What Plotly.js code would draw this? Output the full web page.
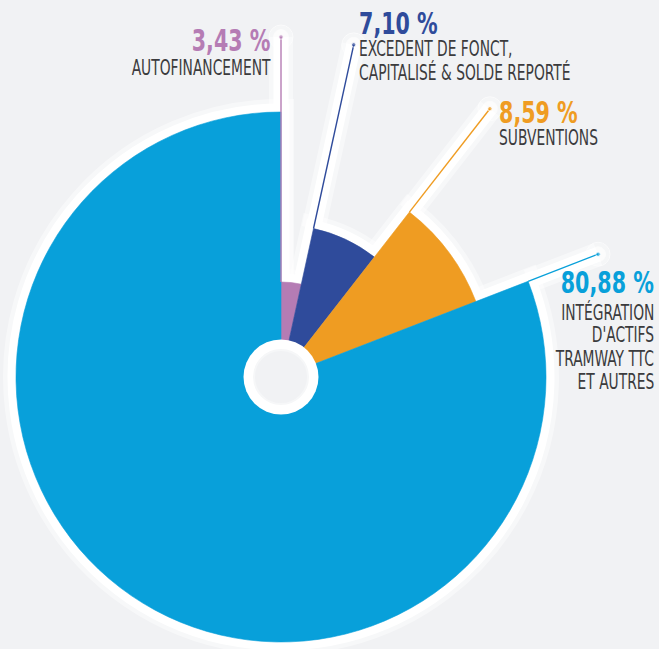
<!DOCTYPE html>
<html>
<head>
<meta charset="utf-8">
<script src="https://cdn.plot.ly/plotly-3.0.1.min.js"></script>
<style>
  html, body { margin:0; padding:0; width:659px; height:649px; overflow:hidden; background:#f1f2f4; }
  #chart { position:absolute; left:-70px; top:0; width:729px; height:730px; }
</style>
</head>
<body>
<div id="chart"></div>
<script>
// ---- data ----
const categories = ['AUTOFINANCEMENT', 'EXCEDENT DE FONCT, CAPITALISÉ & SOLDE REPORTÉ', 'SUBVENTIONS', "INTÉGRATION D'ACTIFS TRAMWAY TTC ET AUTRES"];
const values = [3.43, 7.10, 8.59, 80.88];
const valueLabels = ['3,43 %', '7,10 %', '8,59 %', '80,88 %'];
const labelLines = [
  ['AUTOFINANCEMENT'],
  ['EXCEDENT DE FONCT,', 'CAPITALISÉ & SOLDE REPORTÉ'],
  ['SUBVENTIONS'],
  ['INTÉGRATION', "D'ACTIFS", 'TRAMWAY TTC', 'ET AUTRES']
];
// ---- styles ----
const colors = ['#b57cb4', '#2f4b9b', '#ef9c22', '#08a0da'];
const sliceRadius = [95, 152, 209, 265];
const leaderEnd = 340;
const textColor = '#3b3b3d';
const FONT = '"DejaVu Sans Condensed", "DejaVu Sans", sans-serif';
const PCT_SQUEEZE = 0.74, TXT_SQUEEZE = 0.75;

// ---- geometry of page ----
const W = 729, H = 730, OX = 70;
const CX = 281, CY = 377, R = 345;
const px = (x) => (x + OX) / W;
const py = (y) => (H - y) / H;

const total = values.reduce((a, b) => a + b, 0);
const widths = values.map(v => v / total * 360);
const starts = [];
let acc = 0;
widths.forEach(w => { starts.push(acc); acc += w; });
const thetas = widths.map((w, i) => starts[i] + w / 2);

const traces = [];
// ---- halo (bottom subplot 'polar') ----
traces.push({type:'barpolar', subplot:'polar', r: sliceRadius, theta: thetas, width: widths,
  marker:{color:'rgba(255,255,255,0.45)', line:{color:'rgba(255,255,255,0.45)', width:26}}, hoverinfo:'skip'});
traces.push({type:'barpolar', subplot:'polar', r: sliceRadius, theta: thetas, width: widths,
  marker:{color:'#ffffff', line:{color:'#ffffff', width:17}}, hoverinfo:'skip'});
values.forEach((v, i) => {
  traces.push({type:'scatterpolar', subplot:'polar', mode:'lines+markers', r:[sliceRadius[i], leaderEnd], theta:[starts[i], starts[i]],
    line:{color:'rgba(255,255,255,0.45)', width:24}, marker:{size:[0,24], color:'rgba(255,255,255,0.45)'}, hoverinfo:'skip'});
});
values.forEach((v, i) => {
  traces.push({type:'scatterpolar', subplot:'polar', mode:'lines+markers', r:[sliceRadius[i], leaderEnd], theta:[starts[i], starts[i]],
    line:{color:'#ffffff', width:15}, marker:{size:[0,15], color:'#ffffff'}, hoverinfo:'skip'});
});
// ---- slices, leaders and hole (top subplot 'polar2') ----
traces.push({type:'barpolar', subplot:'polar2', r: sliceRadius, theta: thetas, width: widths, text: categories,
  marker:{color: colors, line:{color: colors, width:0.6}}, hoverinfo:'text'});
values.forEach((v, i) => {
  traces.push({type:'scatterpolar', subplot:'polar2', mode:'lines+markers', r:[sliceRadius[i], leaderEnd], theta:[starts[i], starts[i]],
    line:{color: colors[i], width:1.4}, marker:{size:[0,4.5], color: colors[i]}, hoverinfo:'skip'});
});
traces.push({type:'scatterpolar', subplot:'polar2', mode:'markers', r:[0], theta:[0],
  marker:{size:75, color:'#ffffff', line:{width:0}}, hoverinfo:'skip'});
traces.push({type:'scatterpolar', subplot:'polar2', mode:'markers', r:[0], theta:[0],
  marker:{size:54, color:'#f1f2f4', line:{color:'#f6f7f8', width:2}}, hoverinfo:'skip'});

// ---- labels ----
const labelPos = [
  {x:273, anchor:'right', pctY:40, lineY:[68]},
  {x:357, anchor:'left', pctY:22.5, lineY:[49, 72.5]},
  {x:497, anchor:'left', pctY:111.5, lineY:[138]},
  {x:656, anchor:'right', pctY:282, lineY:[312.5, 335, 358.5, 382]}
];
const annotations = [];
const squeeze = [];
labelPos.forEach((p, i) => {
  annotations.push({xref:'paper', yref:'paper', x:px(p.x), y:py(p.pctY), xanchor:p.anchor, yanchor:'middle',
    text: valueLabels[i], showarrow:false,
    font:{family: FONT, size:31, color: colors[i], weight: 'bold'}});
  squeeze.push({f: PCT_SQUEEZE, side: p.anchor});
  labelLines[i].forEach((t, j) => {
    annotations.push({xref:'paper', yref:'paper', x:px(p.x), y:py(p.lineY[j]), xanchor:p.anchor, yanchor:'middle',
      text: t, showarrow:false,
      font:{family: FONT, size:20.5, color: textColor}});
    squeeze.push({f: TXT_SQUEEZE, side: p.anchor});
  });
});

const polarAxes = () => ({
  domain:{x:[(CX + OX - R) / W, (CX + OX + R) / W], y:[(H - CY - R) / H, (H - CY + R) / H]},
  bgcolor:'rgba(0,0,0,0)',
  barmode:'overlay',
  bargap:0,
  radialaxis:{range:[0, R], visible:false},
  angularaxis:{rotation:90, direction:'clockwise', visible:false}
});

const layout = {
  width: W, height: H,
  margin:{l:0, r:0, t:0, b:0},
  paper_bgcolor:'#f1f2f4',
  showlegend:false,
  polar: polarAxes(),
  polar2: polarAxes(),
  annotations: annotations
};
Plotly.newPlot('chart', traces, layout, {displayModeBar:false, staticPlot:true}).then(() => {
  // condensed lettering: narrow the label texts horizontally, anchored on their aligned side
  const groups = document.querySelectorAll('#chart g.annotation');
  groups.forEach((g) => {
    const idx = +g.getAttribute('data-index');
    const s = squeeze[idx];
    const t = g.querySelector('text.annotation-text');
    if (!s || !t) return;
    t.style.transformBox = 'fill-box';
    t.style.transformOrigin = (s.side === 'right' ? 'right' : 'left') + ' center';
    t.style.transform = 'scaleX(' + s.f + ')';
  });
});
</script>
</body>
</html>
